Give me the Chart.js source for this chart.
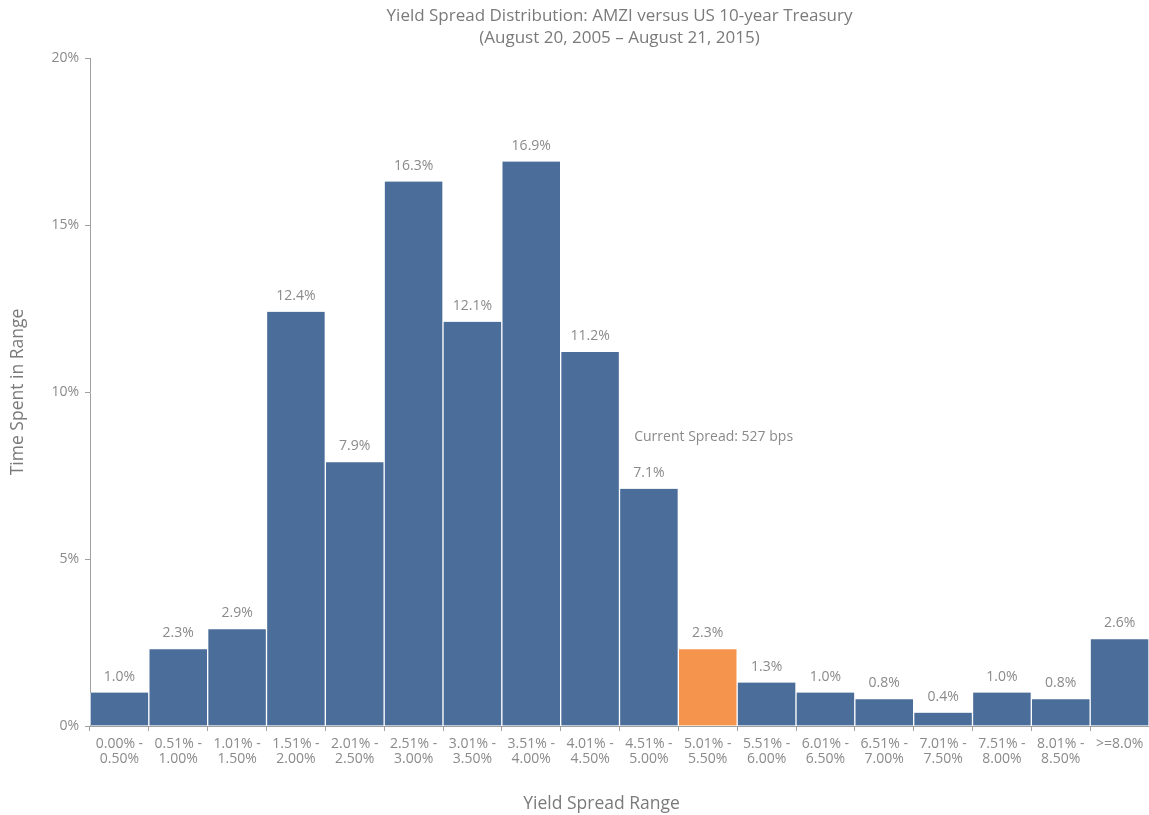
<!DOCTYPE html>
<html>
<head>
<meta charset="utf-8">
<script src="https://cdn.jsdelivr.net/npm/chart.js@4"></script>
<style>
html,body{margin:0;padding:0;background:#fff;}
#wrap{width:1149px;height:815px;position:relative;}
</style>
</head>
<body>
<div id="wrap"><canvas id="c" width="1149" height="815"></canvas></div>
<script>
const categories = [
  ["0.00% -","0.50%"],["0.51% -","1.00%"],["1.01% -","1.50%"],["1.51% -","2.00%"],
  ["2.01% -","2.50%"],["2.51% -","3.00%"],["3.01% -","3.50%"],["3.51% -","4.00%"],
  ["4.01% -","4.50%"],["4.51% -","5.00%"],["5.01% -","5.50%"],["5.51% -","6.00%"],
  ["6.01% -","6.50%"],["6.51% -","7.00%"],["7.01% -","7.50%"],["7.51% -","8.00%"],
  ["8.01% -","8.50%"],[">=8.0%"]
];
const timeSpent = [1.0, 2.3, 2.9, 12.4, 7.9, 16.3, 12.1, 16.9, 11.2, 7.1, 2.3, 1.3, 1.0, 0.8, 0.4, 1.0, 0.8, 2.6];
const currentIndex = 10;
const yTicks = [0, 5, 10, 15, 20];
const titleLines = ["Yield Spread Distribution: AMZI versus US 10-year Treasury", "(August 20, 2005 \u2013 August 21, 2015)"];
const xTitle = "Yield Spread Range";
const yTitle = "Time Spent in Range";
const annotationText = "Current Spread: 527 bps";
const annotationAt = {index: 9, value: 8.65};

const FONT = "'Open Sans', 'Noto Sans', sans-serif";
const GRAY = "#8a8a8a";
const AXIS = "#a0a0a0";
const BLUE = "#4b6d99";
const ORANGE = "#f4944d";

const textPlugin = {
  id: 'texts',
  afterDatasetsDraw(chart) {
    const ctx = chart.ctx;
    const xs = chart.scales.x, ys = chart.scales.y;
    const ca = chart.chartArea;
    ctx.save();
    ctx.fillStyle = GRAY;
    // value labels
    ctx.font = "14px " + FONT;
    ctx.textAlign = "center";
    ctx.textBaseline = "middle";
    const meta = chart.getDatasetMeta(0);
    meta.data.forEach((bar, i) => {
      ctx.fillText(timeSpent[i].toFixed(1) + "%", bar.x, bar.y - 16);
    });
    // annotation
    ctx.textAlign = "left";
    const bw = xs.getPixelForValue(1) - xs.getPixelForValue(0);
    ctx.fillText(annotationText, xs.getPixelForValue(annotationAt.index) - bw * 0.25, ys.getPixelForValue(annotationAt.value));
    // title
    ctx.font = "17px " + FONT;
    ctx.fillStyle = "#7a7a7a";
    ctx.textAlign = "center";
    const cx = (ca.left + ca.right) / 2;
    ctx.fillText(titleLines[0], cx, 16);
    ctx.fillText(titleLines[1], cx, 38);
    // axis titles
    ctx.font = "17.5px " + FONT;
    ctx.fillText(xTitle, cx - 18, 804);
    ctx.translate(18, (ca.top + ca.bottom) / 2);
    ctx.rotate(-Math.PI / 2);
    ctx.fillText(yTitle, 0, 0);
    ctx.restore();
  }
};

new Chart(document.getElementById('c'), {
  type: 'bar',
  data: {
    labels: categories,
    datasets: [{
      data: timeSpent,
      backgroundColor: timeSpent.map((v, i) => i === currentIndex ? ORANGE : BLUE),
      borderColor: '#ffffff',
      borderWidth: {left: 1, right: 1, top: 0, bottom: 0},
      borderSkipped: false,
      barPercentage: 1,
      categoryPercentage: 1
    }]
  },
  options: {
    responsive: false,
    animation: false,
    devicePixelRatio: 1,
    layout: {padding: {top: 58, right: 0, left: 0, bottom: 0}},
    plugins: {legend: {display: false}, tooltip: {enabled: false}, title: {display: false}},
    scales: {
      x: {
        afterFit(s) { s.height = 89; },
        grid: {display: true, drawOnChartArea: false, drawTicks: true, tickLength: 5, color: AXIS, offset: true},
        border: {display: true, color: AXIS, width: 1},
        ticks: {color: GRAY, font: {family: FONT, size: 14, lineHeight: 1.1}, maxRotation: 0, autoSkip: false, padding: 5}
      },
      y: {
        min: 0, max: 20,
        afterFit(s) { s.width = 90; },
        afterBuildTicks(s) { s.ticks = yTicks.map(v => ({value: v})); },
        grid: {display: true, drawOnChartArea: false, drawTicks: true, tickLength: 5, color: AXIS},
        border: {display: true, color: AXIS, width: 1},
        ticks: {color: GRAY, font: {family: FONT, size: 14}, padding: 6, callback: v => v + "%"}
      }
    }
  },
  plugins: [textPlugin]
});
</script>
</body>
</html>
